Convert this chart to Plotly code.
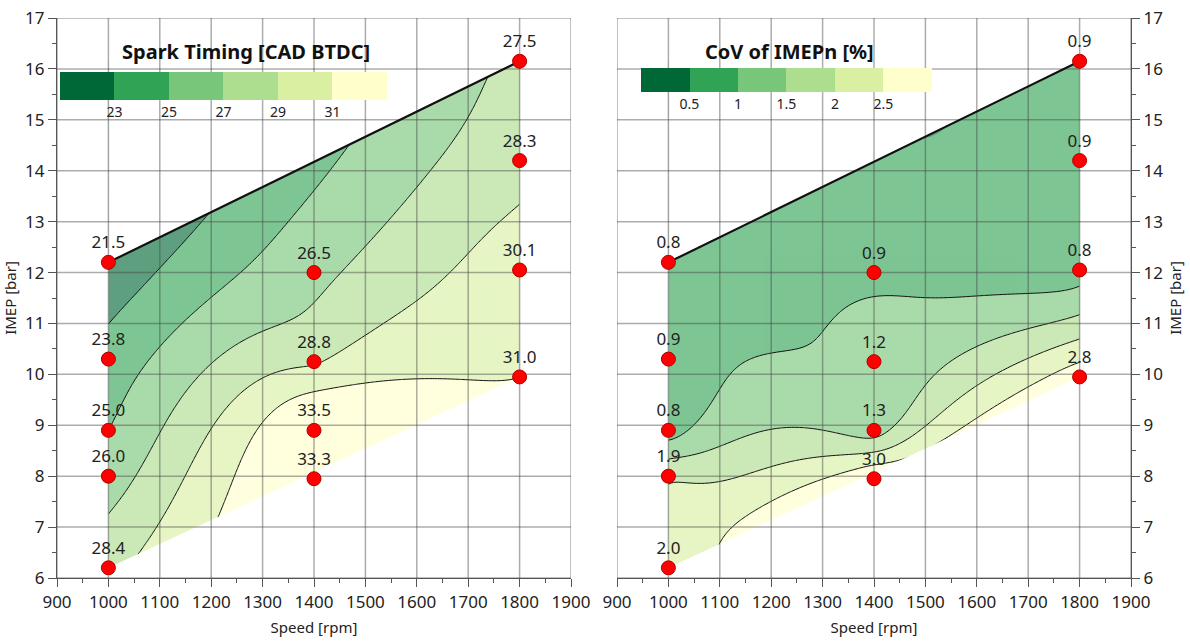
import numpy as np
import plotly.graph_objects as go

# Operating points: engine speed [rpm] and load IMEP [bar]
speed = [1000, 1000, 1000, 1000, 1000, 1400, 1400, 1400, 1400, 1800, 1800, 1800, 1800]
imep = [12.2, 10.3, 8.9, 8.0, 6.2, 12.0, 10.25, 8.9, 7.95, 16.15, 14.2, 12.05, 9.95]

# Measured values at each operating point
spark_timing = [21.5, 23.8, 25.0, 26.0, 28.4, 26.5, 28.8, 33.5, 33.3, 27.5, 28.3, 30.1, 31.0]
cov_imep = [0.8, 0.9, 0.8, 1.9, 2.0, 0.9, 1.2, 1.3, 3.0, 0.9, 0.9, 0.8, 2.8]

# Labels printed above each point
spark_labels = ["21.5", "23.8", "25.0", "26.0", "28.4", "26.5", "28.8", "33.5", "33.3",
                "27.5", "28.3", "30.1", "31.0"]
cov_labels = ["0.8", "0.9", "0.8", "1.9", "2.0", "0.9", "1.2", "1.3", "3.0",
              "0.9", "0.9", "0.8", "2.8"]

# Envelope of the tested map (upper and lower load limits)
upper_speed = [1000, 1800]
upper_imep = [12.2, 16.15]
lower_speed = [1000, 1800]
lower_imep = [6.2, 9.95]

# Contour levels
spark_levels = [23, 25, 27, 29, 31]
cov_levels = [0.5, 1.0, 1.5, 2.0, 2.5]
spark_level_text = ["23", "25", "27", "29", "31"]
cov_level_text = ["0.5", "1", "1.5", "2", "2.5"]

x_ticks = list(range(900, 2000, 100))
y_ticks = list(range(6, 18))

palette = ["#006837", "#31a354", "#78c679", "#addd8e", "#d9f0a3", "#ffffcc"]
# smooth scale used by the filled contour (one colour per band)
band_scale = [[i / (len(palette) - 1), c] for i, c in enumerate(palette)]
# stepped scale used for the key
step_scale = []
for i, c in enumerate(palette):
    step_scale += [[i / len(palette), c], [(i + 1) / len(palette), c]]

FONT = "Noto Sans"


def tps_surface(xs, ys, zs, gx, gy):
    """Thin-plate spline through scattered points (axes normalised to their span)."""
    sx = max(xs) - min(xs)
    sy = max(ys) - min(ys)
    px = np.asarray(xs, float) / sx
    py = np.asarray(ys, float) / sy
    z = np.asarray(zs, float)
    n = len(z)

    def kernel(r):
        with np.errstate(divide="ignore", invalid="ignore"):
            k = r ** 2 * np.log(r)
        return np.where(r > 0, k, 0.0)

    r = np.hypot(px[:, None] - px[None, :], py[:, None] - py[None, :])
    P = np.column_stack([np.ones(n), px, py])
    A = np.zeros((n + 3, n + 3))
    A[:n, :n] = kernel(r)
    A[:n, n:] = P
    A[n:, :n] = P.T
    coef = np.linalg.solve(A, np.concatenate([z, np.zeros(3)]))
    w, a = coef[:n], coef[n:]

    GX, GY = np.meshgrid(np.asarray(gx, float) / sx, np.asarray(gy, float) / sy)
    rg = np.hypot(GX[..., None] - px, GY[..., None] - py)
    return kernel(rg) @ w + a[0] + a[1] * GX + a[2] * GY


grid_x = np.linspace(min(speed), max(speed), 161)
grid_y = np.linspace(min(imep), max(imep), 200)

panels = [
    dict(z=spark_timing, labels=spark_labels, levels=spark_levels, level_text=spark_level_text,
         xa="x", ya="y", cb_x=60 / 1190, cb_top=72, cb_len=327, cb_th=28,
         title="Spark Timing [CAD BTDC]", title_x=246 / 1190),
    dict(z=cov_imep, labels=cov_labels, levels=cov_levels, level_text=cov_level_text,
         xa="x2", ya="y2", cb_x=641 / 1190, cb_top=68, cb_len=291, cb_th=24,
         title="CoV of IMEPn [%]", title_x=789 / 1190),
]

fig = go.Figure()

for p in panels:
    lv = p["levels"]
    step = lv[1] - lv[0]
    zgrid = tps_surface(speed, imep, p["z"], grid_x, grid_y)
    # filled bands
    fig.add_trace(go.Contour(
        x=grid_x, y=grid_y, z=zgrid, xaxis=p["xa"], yaxis=p["ya"],
        colorscale=band_scale, opacity=0.63, showscale=False,
        contours=dict(start=lv[0], end=lv[-1], size=step, coloring="fill"),
        line=dict(width=0), hoverinfo="skip",
    ))
    # iso-lines, only for levels inside the measured range
    inner = [v for v in lv if min(p["z"]) <= v <= max(p["z"])]
    fig.add_trace(go.Contour(
        x=grid_x, y=grid_y, z=zgrid, xaxis=p["xa"], yaxis=p["ya"],
        contours=dict(start=inner[0], end=inner[-1], size=step, coloring="none"),
        line=dict(color="#111", width=1, smoothing=1), showscale=False, hoverinfo="skip",
    ))
    # blank out everything outside the tested envelope
    fig.add_trace(go.Scatter(
        x=[upper_speed[0], upper_speed[1], upper_speed[1], upper_speed[0], upper_speed[0]],
        y=[upper_imep[0], upper_imep[1], max(y_ticks) + 1, max(y_ticks) + 1, upper_imep[0]],
        xaxis=p["xa"], yaxis=p["ya"], mode="lines", fill="toself",
        fillcolor="white", line=dict(width=0, color="white"), hoverinfo="skip",
        showlegend=False))
    fig.add_trace(go.Scatter(
        x=[lower_speed[0], lower_speed[1], lower_speed[1], lower_speed[0], lower_speed[0]],
        y=[lower_imep[0], lower_imep[1], min(y_ticks) - 1, min(y_ticks) - 1, lower_imep[0]],
        xaxis=p["xa"], yaxis=p["ya"], mode="lines", fill="toself",
        fillcolor="white", line=dict(width=0, color="white"), hoverinfo="skip",
        showlegend=False))
    # grid
    gx_lines, gy_lines = [], []
    for xv in x_ticks:
        gx_lines += [xv, xv, None]
        gy_lines += [min(y_ticks), max(y_ticks), None]
    for yv in y_ticks:
        gx_lines += [min(x_ticks), max(x_ticks), None]
        gy_lines += [yv, yv, None]
    fig.add_trace(go.Scatter(
        x=gx_lines, y=gy_lines, xaxis=p["xa"], yaxis=p["ya"], mode="lines",
        line=dict(color="rgba(70,70,70,0.45)", width=1.5), hoverinfo="skip",
        showlegend=False))
    # upper load limit
    fig.add_trace(go.Scatter(
        x=upper_speed, y=upper_imep, xaxis=p["xa"], yaxis=p["ya"], mode="lines",
        line=dict(color="#111", width=2.2), hoverinfo="skip", showlegend=False))
    # measured points
    fig.add_trace(go.Scatter(
        x=speed, y=imep, xaxis=p["xa"], yaxis=p["ya"], mode="markers+text",
        text=p["labels"], textposition="top center",
        textfont=dict(family=FONT, size=17, color="#222"),
        marker=dict(color="#ff0000", size=14, line=dict(color="#b00000", width=1)),
        hoverinfo="skip", showlegend=False))
    # colour key with one full band per interval
    fig.add_trace(go.Scatter(
        x=[None], y=[None], xaxis=p["xa"], yaxis=p["ya"], mode="markers",
        marker=dict(color=[lv[0]], colorscale=step_scale,
                    cmin=lv[0] - step, cmax=lv[-1] + step, showscale=True,
                    colorbar=dict(orientation="h", x=p["cb_x"], xanchor="left", xpad=0,
                                  y=1 - p["cb_top"] / 643, yanchor="top", ypad=0,
                                  lenmode="pixels", len=p["cb_len"],
                                  thickness=p["cb_th"], outlinewidth=0,
                                  ticks="", tickvals=lv, ticktext=p["level_text"],
                                  tickfont=dict(family=FONT, size=14, color="#222"))),
        hoverinfo="skip", showlegend=False))
    fig.add_annotation(x=p["title_x"], y=1 - 52 / 643, xref="paper", yref="paper",
                       xanchor="center", yanchor="middle",
                       text="<b>%s</b>" % p["title"], showarrow=False,
                       font=dict(family=FONT, size=20, color="#111"))

axis_common = dict(
    showgrid=False, zeroline=False, showline=True, linecolor="#555", linewidth=1.2,
    ticks="outside", ticklen=8, tickcolor="#555", tickwidth=1.2, automargin=False,
    tickfont=dict(family=FONT, size=17, color="#222"),
)
x_common = dict(axis_common, range=[900, 1900], tick0=900, dtick=100,
                minor=dict(dtick=50, ticks="outside", ticklen=4, tickcolor="#555"),
                title=dict(text="Speed [rpm]", font=dict(family=FONT, size=15, color="#222"),
                           standoff=10))
y_common = dict(axis_common, range=[6, 17], tick0=6, dtick=1,
                minor=dict(dtick=0.5, ticks="outside", ticklen=4, tickcolor="#555"),
                title=dict(text="IMEP [bar]", font=dict(family=FONT, size=15, color="#222"),
                           standoff=8))

fig.update_layout(
    width=1190, height=643, margin=dict(l=0, r=0, t=0, b=0),
    paper_bgcolor="white", plot_bgcolor="white", showlegend=False,
    xaxis=dict(x_common, domain=[57 / 1190, 571 / 1190], anchor="y"),
    yaxis=dict(y_common, domain=[1 - 578 / 643, 1 - 18 / 643], anchor="x"),
    xaxis2=dict(x_common, domain=[617 / 1190, 1131 / 1190], anchor="y2"),
    yaxis2=dict(y_common, domain=[1 - 578 / 643, 1 - 18 / 643], anchor="x2", side="right"),
)

fig.write_html("out.html")
